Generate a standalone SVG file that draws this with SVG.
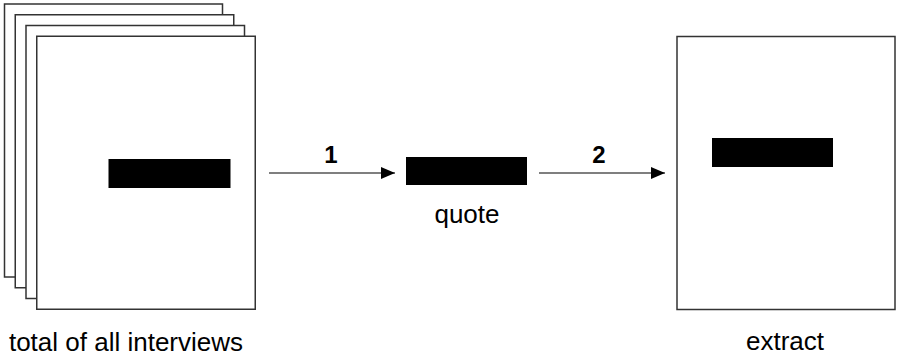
<svg xmlns="http://www.w3.org/2000/svg" width="897" height="356" viewBox="0 0 897 356">
  <defs>
    <style>
      .page { fill: #ffffff; stroke: #333333; stroke-width: 1.5; }
      .bar { fill: #000000; }
      .label { font-family: "Liberation Sans", Arial, sans-serif; font-size: 26px; fill: #000000; }
      .num { font-family: "Liberation Sans", Arial, sans-serif; font-size: 24px; font-weight: bold; fill: #000000; }
      .link { stroke: #000000; stroke-width: 1.2; fill: none; }
    </style>
    <marker id="head" markerWidth="14" markerHeight="12" refX="14" refY="6" orient="auto" markerUnits="userSpaceOnUse">
      <path d="M0,0 L14,6 L0,12 Z" fill="#000000"/>
    </marker>
  </defs>
  <rect width="897" height="356" fill="#ffffff"/>

  <!-- stack of interview transcripts -->
  <g id="interviews">
    <rect class="page" x="4.5" y="4" width="218" height="273"/>
    <rect class="page" x="15.25" y="14.75" width="218.5" height="273"/>
    <rect class="page" x="26" y="25.5" width="218.5" height="273"/>
    <rect class="page" x="36.75" y="36.25" width="218.5" height="273"/>
    <rect class="bar" x="108.5" y="159" width="122" height="29"/>
    <text class="label" x="126" y="351" text-anchor="middle">total of all interviews</text>
  </g>

  <!-- single quote -->
  <g id="quote">
    <rect class="bar" x="406" y="157" width="121" height="28"/>
    <text class="label" x="467" y="223" text-anchor="middle">quote</text>
  </g>

  <!-- extract document -->
  <g id="extract">
    <rect class="page" x="677" y="36.5" width="218" height="273"/>
    <rect class="bar" x="712" y="138" width="121" height="29"/>
    <text class="label" x="785" y="350" text-anchor="middle">extract</text>
  </g>

  <!-- connectors -->
  <g id="connectors">
    <line class="link" x1="269" y1="173" x2="395" y2="173" marker-end="url(#head)"/>
    <text class="num" x="331" y="163" text-anchor="middle">1</text>
    <line class="link" x1="539" y1="173" x2="665" y2="173" marker-end="url(#head)"/>
    <text class="num" x="599" y="163" text-anchor="middle">2</text>
  </g>
</svg>
